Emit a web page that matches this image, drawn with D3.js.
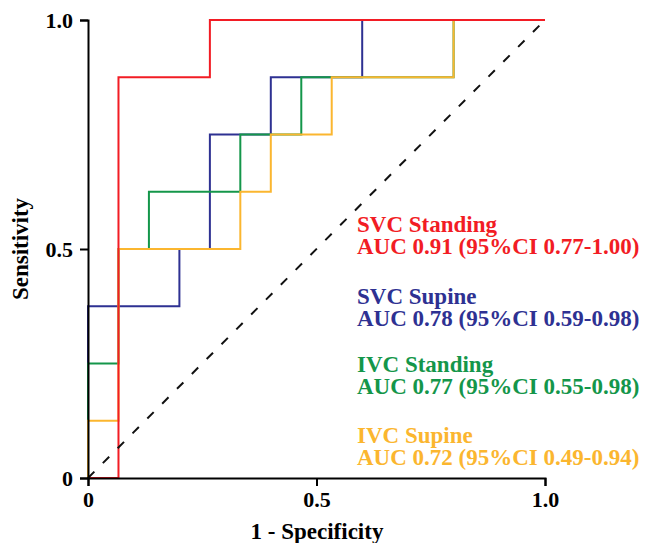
<!DOCTYPE html>
<html>
<head>
<meta charset="utf-8">
<script src="https://cdn.jsdelivr.net/npm/d3@7"></script>
<style>
  html, body { margin: 0; padding: 0; background: #fff; }
  svg { display: block; }
  text { font-family: "Liberation Serif", "Times New Roman", serif; font-weight: bold; }
</style>
</head>
<body>
<svg id="chart" width="646" height="543"></svg>
<script>
// ---- data (ROC step vertices) ----
const seriesNames = ["SVC Supine", "IVC Standing", "IVC Supine", "SVC Standing"];
const seriesAUC = [
  "AUC 0.78 (95%CI 0.59-0.98)",
  "AUC 0.77 (95%CI 0.55-0.98)",
  "AUC 0.72 (95%CI 0.49-0.94)",
  "AUC 0.91 (95%CI 0.77-1.00)"
];
const seriesColors = ["#2e3192", "#14964a", "#fbb62f", "#f21c24"];

const svcSupineFPR = [0, 0, 0.2, 0.2, 0.2667, 0.2667, 0.4, 0.4, 0.6, 0.6, 1];
const svcSupineTPR = [0, 0.375, 0.375, 0.5, 0.5, 0.75, 0.75, 0.875, 0.875, 1, 1];

const ivcStandingFPR = [0, 0, 0.0667, 0.0667, 0.1333, 0.1333, 0.3333, 0.3333, 0.4667, 0.4667, 0.8, 0.8, 1];
const ivcStandingTPR = [0, 0.25, 0.25, 0.5, 0.5, 0.625, 0.625, 0.75, 0.75, 0.875, 0.875, 1, 1];

const ivcSupineFPR = [0, 0, 0.0667, 0.0667, 0.3333, 0.3333, 0.4, 0.4, 0.5333, 0.5333, 0.8, 0.8, 1];
const ivcSupineTPR = [0, 0.125, 0.125, 0.5, 0.5, 0.625, 0.625, 0.75, 0.75, 0.875, 0.875, 1, 1];

const svcStandingFPR = [0, 0.0667, 0.0667, 0.2667, 0.2667, 1];
const svcStandingTPR = [0, 0, 0.875, 0.875, 1, 1];

const xTickValues = [0, 0.5, 1];
const xTickLabels = ["0", "0.5", "1.0"];
const yTickValues = [0, 0.5, 1];
const yTickLabels = ["0", "0.5", "1.0"];
const xTitle = "1 - Specificity";
const yTitle = "Sensitivity";

// ---- build ----
const allFPR = [svcSupineFPR, ivcStandingFPR, ivcSupineFPR, svcStandingFPR];
const allTPR = [svcSupineTPR, ivcStandingTPR, ivcSupineTPR, svcStandingTPR];
const series = seriesNames.map((n, i) => ({
  name: n, auc: seriesAUC[i], color: seriesColors[i],
  pts: allFPR[i].map((f, j) => [f, allTPR[i][j]])
}));

const svg = d3.select("#chart");
const x = d3.scaleLinear().domain([0, 1]).range([88, 545]);
const y = d3.scaleLinear().domain([0, 1]).range([478, 20]);

const line = d3.line().x(d => x(d[0])).y(d => y(d[1]));

svg.append("g").selectAll("path")
  .data(series)
  .join("path")
  .attr("d", d => line(d.pts))
  .attr("fill", "none")
  .attr("stroke", d => d.color)
  .attr("stroke-width", 2);

// reference diagonal
svg.append("path")
  .attr("d", line([[0, 0], [1, 1]]))
  .attr("fill", "none")
  .attr("stroke", "#111")
  .attr("stroke-width", 2)
  .attr("stroke-dasharray", "9,12");

// axes
const xAxis = d3.axisBottom(x).tickValues(xTickValues)
  .tickFormat((d, i) => xTickLabels[i]).tickSize(8).tickPadding(5);
const yAxis = d3.axisLeft(y).tickValues(yTickValues)
  .tickFormat((d, i) => yTickLabels[i]).tickSize(8).tickPadding(7);

const gx = svg.append("g").attr("transform", `translate(0,${y(0)})`).call(xAxis);
const gy = svg.append("g").attr("transform", `translate(${x(0)},0)`).call(yAxis);
[gx, gy].forEach(g => {
  g.selectAll("path, line").attr("stroke", "#000").attr("stroke-width", 2);
  g.selectAll("text").attr("fill", "#000")
    .style("font-family", '"Liberation Serif", "Times New Roman", serif')
    .style("font-weight", "bold").style("font-size", "22px");
});

// axis titles
svg.append("text")
  .attr("x", 317).attr("y", 539)
  .attr("text-anchor", "middle")
  .style("font-size", "23px")
  .text(xTitle);

svg.append("text")
  .attr("transform", "translate(28,249) rotate(-90)")
  .attr("text-anchor", "middle")
  .style("font-size", "23px")
  .text(yTitle);

// legend text
const legendOrder = [3, 0, 1, 2];
const legendBase = [232, 304, 372, 443];
legendOrder.forEach((si, k) => {
  const s = series[si];
  const t = svg.append("text").attr("fill", s.color).style("font-size", "23px");
  t.append("tspan").attr("x", 357).attr("y", legendBase[k]).text(s.name);
  t.append("tspan").attr("x", 357).attr("y", legendBase[k] + 22).text(s.auc);
});
</script>
</body>
</html>
